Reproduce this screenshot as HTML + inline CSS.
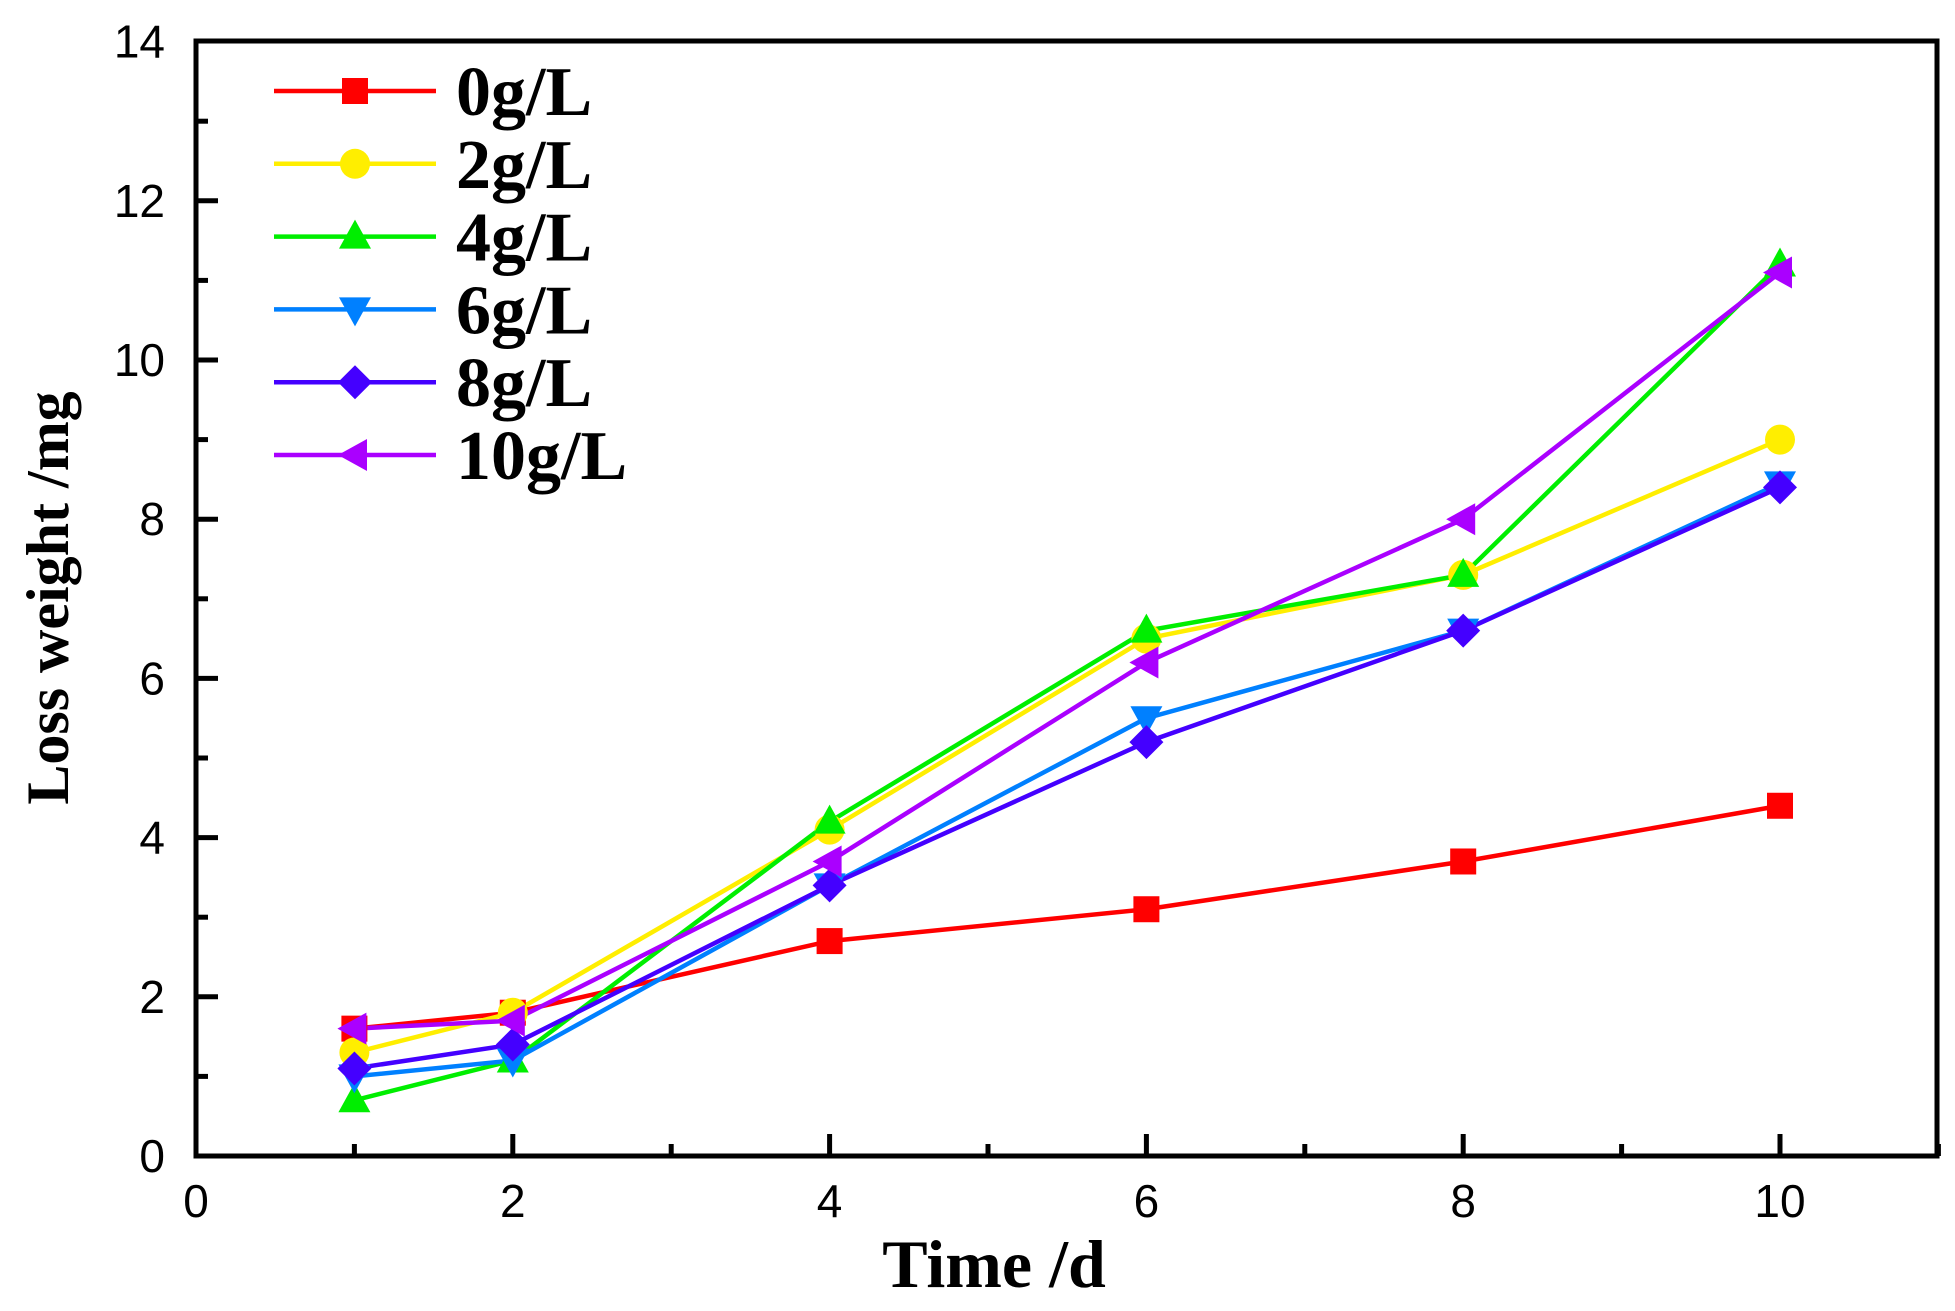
<!DOCTYPE html>
<html><head><meta charset="utf-8"><style>body{margin:0;background:#fff}svg{display:block}</style></head>
<body>
<svg width="1955" height="1311" viewBox="0 0 1955 1311" xmlns="http://www.w3.org/2000/svg">
<defs>
<g id="sq"><rect x="-13" y="-13" width="26" height="26"/></g>
<g id="ci"><circle r="15"/></g>
<g id="tu"><polygon points="0,-17 16,12 -16,12"/></g>
<g id="td"><polygon points="0,17 16,-12 -16,-12"/></g>
<g id="di"><polygon points="0,-17 17,0 0,17 -17,0"/></g>
<g id="tl"><polygon points="-17,0 12,-16 12,16"/></g>
</defs>
<rect width="1955" height="1311" fill="#fff"/>
<g stroke="#000" stroke-width="5" fill="none">
<rect x="196" y="41" width="1741" height="1115"/>
</g>
<g stroke="#000" stroke-width="5" id="ticks"></g>
<g font-family="Liberation Sans, sans-serif" font-size="46" fill="#000" id="labels"></g>
<g id="series"></g>
<text x="994" y="1287" text-anchor="middle" font-family="Liberation Serif, serif" font-weight="bold" font-size="68">Time /d</text>
<text transform="translate(68,598) rotate(-90)" text-anchor="middle" font-family="Liberation Serif, serif" font-weight="bold" font-size="60">Loss weight /mg</text>
<g id="legend" font-family="Liberation Serif, serif" font-weight="bold" font-size="70"></g>
</svg>
<script>
const NS="http://www.w3.org/2000/svg";
const X=v=>196+158.4*v, Y=v=>1156-79.6*v;
function el(p,t,a,txt){const e=document.createElementNS(NS,t);for(const k in a)e.setAttribute(k,a[k]);if(txt!==undefined)e.textContent=txt;p.appendChild(e);return e;}
const tk=document.getElementById('ticks'),lb=document.getElementById('labels');
for(let i=1;i<=11;i++){const x=X(i);const L=i%2==0?22:12;el(tk,'line',{x1:x,y1:1156,x2:x,y2:1156-L});}
for(let i=0;i<=10;i+=2)el(lb,'text',{x:X(i),y:1217,'text-anchor':'middle'},String(i));
for(let i=1;i<=13;i++){const y=Y(i);const L=i%2==0?22:12;el(tk,'line',{x1:196,y1:y,x2:196+L,y2:y});}
for(let i=0;i<=14;i+=2)el(lb,'text',{x:165,y:Y(i)+16,'text-anchor':'end'},String(i));
const xs=[1,2,4,6,8,10];
const S=[
['#ff0000','sq',[1.6,1.8,2.7,3.1,3.7,4.4],'0g/L'],
['#ffee00','ci',[1.3,1.8,4.1,6.5,7.3,9.0],'2g/L'],
['#00ee00','tu',[0.7,1.2,4.2,6.6,7.3,11.2],'4g/L'],
['#0080ff','td',[1.0,1.2,3.4,5.5,6.6,8.45],'6g/L'],
['#4400ff','di',[1.1,1.4,3.4,5.2,6.6,8.4],'8g/L'],
['#aa00ff','tl',[1.6,1.7,3.7,6.2,8.0,11.1],'10g/L']];
const sg=document.getElementById('series'),lg=document.getElementById('legend');
S.forEach((s,k)=>{
 el(sg,'polyline',{points:xs.map((x,i)=>X(x)+','+Y(s[2][i])).join(' '),fill:'none',stroke:s[0],'stroke-width':4.5});
});
S.forEach((s,k)=>{
 xs.forEach((x,i)=>el(sg,'use',{href:'#'+s[1],x:X(x),y:Y(s[2][i]),fill:s[0]}));
 const y=91+72.8*k;
 el(lg,'line',{x1:274,y1:y,x2:436,y2:y,stroke:s[0],'stroke-width':4.5});
 el(lg,'use',{href:'#'+s[1],x:355,y:y,fill:s[0]});
 el(lg,'text',{x:456,y:y+24,fill:'#000'},s[3]);
});
</script>
</body></html>
